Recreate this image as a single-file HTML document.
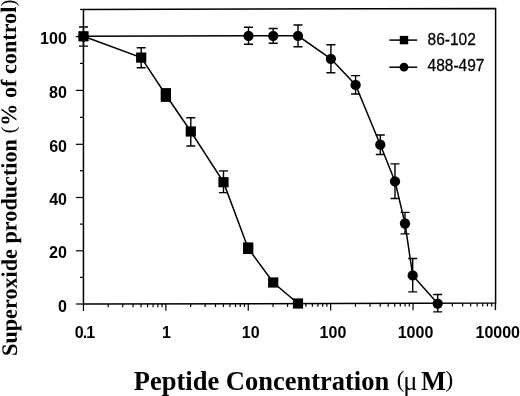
<!DOCTYPE html>
<html><head><meta charset="utf-8"><style>
html,body{margin:0;padding:0;background:#fff;}
svg{display:block;will-change:transform;filter:blur(0.35px);}
</style></head><body>
<svg width="520" height="396" viewBox="0 0 520 396">
<rect width="520" height="396" fill="#fff"/>
<path d="M83.45,304.05 L83.45,9.45 L495.60,8.60 L495.60,303.10 Z" fill="none" stroke="#000" stroke-width="1.5"/>
<line x1="75.85" y1="304.00" x2="83.45" y2="304.00" stroke="#000" stroke-width="1.2"/>
<line x1="79.95" y1="277.40" x2="83.45" y2="277.40" stroke="#000" stroke-width="1.2"/>
<line x1="75.85" y1="250.80" x2="83.45" y2="250.80" stroke="#000" stroke-width="1.2"/>
<line x1="79.95" y1="224.10" x2="83.45" y2="224.10" stroke="#000" stroke-width="1.2"/>
<line x1="75.85" y1="197.50" x2="83.45" y2="197.50" stroke="#000" stroke-width="1.2"/>
<line x1="79.95" y1="170.75" x2="83.45" y2="170.75" stroke="#000" stroke-width="1.2"/>
<line x1="75.85" y1="144.30" x2="83.45" y2="144.30" stroke="#000" stroke-width="1.2"/>
<line x1="79.95" y1="117.35" x2="83.45" y2="117.35" stroke="#000" stroke-width="1.2"/>
<line x1="75.85" y1="90.40" x2="83.45" y2="90.40" stroke="#000" stroke-width="1.2"/>
<line x1="79.95" y1="63.40" x2="83.45" y2="63.40" stroke="#000" stroke-width="1.2"/>
<line x1="75.85" y1="36.60" x2="83.45" y2="36.60" stroke="#000" stroke-width="1.2"/>
<line x1="79.95" y1="9.45" x2="83.45" y2="9.45" stroke="#000" stroke-width="1.2"/>
<line x1="83.45" y1="304.05" x2="83.45" y2="311.05" stroke="#000" stroke-width="1.2"/>
<line x1="108.25" y1="303.99" x2="108.25" y2="307.29" stroke="#000" stroke-width="1.2"/>
<line x1="122.76" y1="303.96" x2="122.76" y2="307.26" stroke="#000" stroke-width="1.2"/>
<line x1="133.06" y1="303.94" x2="133.06" y2="307.24" stroke="#000" stroke-width="1.2"/>
<line x1="141.05" y1="303.92" x2="141.05" y2="307.22" stroke="#000" stroke-width="1.2"/>
<line x1="147.57" y1="303.90" x2="147.57" y2="307.20" stroke="#000" stroke-width="1.2"/>
<line x1="153.09" y1="303.89" x2="153.09" y2="307.19" stroke="#000" stroke-width="1.2"/>
<line x1="157.86" y1="303.88" x2="157.86" y2="307.18" stroke="#000" stroke-width="1.2"/>
<line x1="162.08" y1="303.87" x2="162.08" y2="307.17" stroke="#000" stroke-width="1.2"/>
<line x1="165.85" y1="303.86" x2="165.85" y2="310.86" stroke="#000" stroke-width="1.2"/>
<line x1="190.65" y1="303.80" x2="190.65" y2="307.10" stroke="#000" stroke-width="1.2"/>
<line x1="205.16" y1="303.77" x2="205.16" y2="307.07" stroke="#000" stroke-width="1.2"/>
<line x1="215.46" y1="303.75" x2="215.46" y2="307.05" stroke="#000" stroke-width="1.2"/>
<line x1="223.45" y1="303.73" x2="223.45" y2="307.03" stroke="#000" stroke-width="1.2"/>
<line x1="229.97" y1="303.71" x2="229.97" y2="307.01" stroke="#000" stroke-width="1.2"/>
<line x1="235.49" y1="303.70" x2="235.49" y2="307.00" stroke="#000" stroke-width="1.2"/>
<line x1="240.26" y1="303.69" x2="240.26" y2="306.99" stroke="#000" stroke-width="1.2"/>
<line x1="244.48" y1="303.68" x2="244.48" y2="306.98" stroke="#000" stroke-width="1.2"/>
<line x1="248.25" y1="303.67" x2="248.25" y2="310.67" stroke="#000" stroke-width="1.2"/>
<line x1="273.05" y1="303.61" x2="273.05" y2="306.91" stroke="#000" stroke-width="1.2"/>
<line x1="287.56" y1="303.58" x2="287.56" y2="306.88" stroke="#000" stroke-width="1.2"/>
<line x1="297.86" y1="303.56" x2="297.86" y2="306.86" stroke="#000" stroke-width="1.2"/>
<line x1="305.85" y1="303.54" x2="305.85" y2="306.84" stroke="#000" stroke-width="1.2"/>
<line x1="312.37" y1="303.52" x2="312.37" y2="306.82" stroke="#000" stroke-width="1.2"/>
<line x1="317.89" y1="303.51" x2="317.89" y2="306.81" stroke="#000" stroke-width="1.2"/>
<line x1="322.66" y1="303.50" x2="322.66" y2="306.80" stroke="#000" stroke-width="1.2"/>
<line x1="326.88" y1="303.49" x2="326.88" y2="306.79" stroke="#000" stroke-width="1.2"/>
<line x1="330.65" y1="303.48" x2="330.65" y2="310.48" stroke="#000" stroke-width="1.2"/>
<line x1="355.45" y1="303.42" x2="355.45" y2="306.72" stroke="#000" stroke-width="1.2"/>
<line x1="369.96" y1="303.39" x2="369.96" y2="306.69" stroke="#000" stroke-width="1.2"/>
<line x1="380.26" y1="303.37" x2="380.26" y2="306.67" stroke="#000" stroke-width="1.2"/>
<line x1="388.25" y1="303.35" x2="388.25" y2="306.65" stroke="#000" stroke-width="1.2"/>
<line x1="394.77" y1="303.33" x2="394.77" y2="306.63" stroke="#000" stroke-width="1.2"/>
<line x1="400.29" y1="303.32" x2="400.29" y2="306.62" stroke="#000" stroke-width="1.2"/>
<line x1="405.06" y1="303.31" x2="405.06" y2="306.61" stroke="#000" stroke-width="1.2"/>
<line x1="409.28" y1="303.30" x2="409.28" y2="306.60" stroke="#000" stroke-width="1.2"/>
<line x1="413.05" y1="303.29" x2="413.05" y2="310.29" stroke="#000" stroke-width="1.2"/>
<line x1="437.85" y1="303.23" x2="437.85" y2="306.53" stroke="#000" stroke-width="1.2"/>
<line x1="452.36" y1="303.20" x2="452.36" y2="306.50" stroke="#000" stroke-width="1.2"/>
<line x1="462.66" y1="303.18" x2="462.66" y2="306.48" stroke="#000" stroke-width="1.2"/>
<line x1="470.65" y1="303.16" x2="470.65" y2="306.46" stroke="#000" stroke-width="1.2"/>
<line x1="477.17" y1="303.14" x2="477.17" y2="306.44" stroke="#000" stroke-width="1.2"/>
<line x1="482.69" y1="303.13" x2="482.69" y2="306.43" stroke="#000" stroke-width="1.2"/>
<line x1="487.46" y1="303.12" x2="487.46" y2="306.42" stroke="#000" stroke-width="1.2"/>
<line x1="491.68" y1="303.11" x2="491.68" y2="306.41" stroke="#000" stroke-width="1.2"/>
<line x1="495.45" y1="303.10" x2="495.45" y2="310.10" stroke="#000" stroke-width="1.2"/>
<line x1="495.45" y1="303.10" x2="495.45" y2="310.10" stroke="#000" stroke-width="1.2"/>
<path d="M83.50,36.30 L248.50,35.80 L273.20,35.80 L298.00,35.80 L330.90,58.80 L355.60,84.90 L380.30,144.70 L395.00,181.40 L405.00,223.50 L412.70,275.40 L437.70,303.60" fill="none" stroke="#000" stroke-width="1.5"/>
<path d="M248.50,27.30 L248.50,44.20 M244.00,27.30 L253.00,27.30 M244.00,44.20 L253.00,44.20" fill="none" stroke="#000" stroke-width="1.4"/>
<path d="M273.20,28.50 L273.20,43.20 M268.70,28.50 L277.70,28.50 M268.70,43.20 L277.70,43.20" fill="none" stroke="#000" stroke-width="1.4"/>
<path d="M298.00,25.00 L298.00,46.80 M293.50,25.00 L302.50,25.00 M293.50,46.80 L302.50,46.80" fill="none" stroke="#000" stroke-width="1.4"/>
<path d="M330.90,44.70 L330.90,72.80 M326.40,44.70 L335.40,44.70 M326.40,72.80 L335.40,72.80" fill="none" stroke="#000" stroke-width="1.4"/>
<path d="M355.60,75.60 L355.60,94.00 M351.10,75.60 L360.10,75.60 M351.10,94.00 L360.10,94.00" fill="none" stroke="#000" stroke-width="1.4"/>
<path d="M380.30,135.00 L380.30,154.50 M375.80,135.00 L384.80,135.00 M375.80,154.50 L384.80,154.50" fill="none" stroke="#000" stroke-width="1.4"/>
<path d="M395.00,163.90 L395.00,198.50 M390.50,163.90 L399.50,163.90 M390.50,198.50 L399.50,198.50" fill="none" stroke="#000" stroke-width="1.4"/>
<path d="M405.00,212.40 L405.00,233.90 M400.50,212.40 L409.50,212.40 M400.50,233.90 L409.50,233.90" fill="none" stroke="#000" stroke-width="1.4"/>
<path d="M412.70,258.50 L412.70,291.90 M408.20,258.50 L417.20,258.50 M408.20,291.90 L417.20,291.90" fill="none" stroke="#000" stroke-width="1.4"/>
<path d="M437.70,294.50 L437.70,311.90 M433.20,294.50 L442.20,294.50 M433.20,311.90 L442.20,311.90" fill="none" stroke="#000" stroke-width="1.4"/>
<circle cx="83.50" cy="36.30" r="5.15" fill="#000"/>
<circle cx="248.50" cy="35.80" r="5.15" fill="#000"/>
<circle cx="273.20" cy="35.80" r="5.15" fill="#000"/>
<circle cx="298.00" cy="35.80" r="5.15" fill="#000"/>
<circle cx="330.90" cy="58.80" r="5.15" fill="#000"/>
<circle cx="355.60" cy="84.90" r="5.15" fill="#000"/>
<circle cx="380.30" cy="144.70" r="5.15" fill="#000"/>
<circle cx="395.00" cy="181.40" r="5.15" fill="#000"/>
<circle cx="405.00" cy="223.50" r="5.15" fill="#000"/>
<circle cx="412.70" cy="275.40" r="5.15" fill="#000"/>
<circle cx="437.70" cy="303.60" r="5.15" fill="#000"/>
<path d="M83.50,36.30 L141.20,57.60 L165.90,95.00 L190.80,131.50 L223.50,182.20 L248.10,248.20 L273.20,282.50 L298.00,303.50" fill="none" stroke="#000" stroke-width="1.5"/>
<path d="M83.50,27.00 L83.50,46.10 M79.00,27.00 L88.00,27.00 M79.00,46.10 L88.00,46.10" fill="none" stroke="#000" stroke-width="1.4"/>
<path d="M141.20,47.80 L141.20,67.80 M136.70,47.80 L145.70,47.80 M136.70,67.80 L145.70,67.80" fill="none" stroke="#000" stroke-width="1.4"/>
<rect x="160.80" y="88.10" width="10.2" height="13.8" fill="#000"/>
<path d="M190.80,117.70 L190.80,146.00 M186.30,117.70 L195.30,117.70 M186.30,146.00 L195.30,146.00" fill="none" stroke="#000" stroke-width="1.4"/>
<path d="M223.50,170.90 L223.50,192.60 M219.00,170.90 L228.00,170.90 M219.00,192.60 L228.00,192.60" fill="none" stroke="#000" stroke-width="1.4"/>
<rect x="243.00" y="242.40" width="10.2" height="11.6" fill="#000"/>
<rect x="78.40" y="31.20" width="10.2" height="10.2" fill="#000"/>
<rect x="136.10" y="52.50" width="10.2" height="10.2" fill="#000"/>
<rect x="160.80" y="89.90" width="10.2" height="10.2" fill="#000"/>
<rect x="185.70" y="126.40" width="10.2" height="10.2" fill="#000"/>
<rect x="218.40" y="177.10" width="10.2" height="10.2" fill="#000"/>
<rect x="243.00" y="243.10" width="10.2" height="10.2" fill="#000"/>
<rect x="268.10" y="277.40" width="10.2" height="10.2" fill="#000"/>
<rect x="292.90" y="298.40" width="10.2" height="10.2" fill="#000"/>
<line x1="389.4" y1="40.1" x2="417.2" y2="40.1" stroke="#000" stroke-width="1.5"/>
<rect x="399.8" y="35.9" width="8.4" height="8.4" fill="#000"/>
<text transform="translate(427.6,44.9) scale(1,1.09)" font-family="'Liberation Sans', sans-serif" font-size="15.5" stroke="#000" stroke-width="0.25">86-102</text>
<line x1="389.4" y1="67.2" x2="417.2" y2="67.2" stroke="#000" stroke-width="1.5"/>
<circle cx="404" cy="67.2" r="4.4" fill="#000"/>
<text transform="translate(427.6,70.9) scale(1,1.09)" font-family="'Liberation Sans', sans-serif" font-size="15.5" stroke="#000" stroke-width="0.25">488-497</text>
<text x="67.0" y="311.50" text-anchor="end" font-family="'Liberation Sans', sans-serif" font-weight="bold" font-size="16">0</text>
<text x="66.8" y="258.10" text-anchor="end" font-family="'Liberation Sans', sans-serif" font-weight="bold" font-size="16">20</text>
<text x="67.0" y="205.10" text-anchor="end" font-family="'Liberation Sans', sans-serif" font-weight="bold" font-size="16">40</text>
<text x="67.0" y="152.30" text-anchor="end" font-family="'Liberation Sans', sans-serif" font-weight="bold" font-size="16">60</text>
<text x="66.8" y="97.80" text-anchor="end" font-family="'Liberation Sans', sans-serif" font-weight="bold" font-size="16">80</text>
<text x="66.8" y="43.90" text-anchor="end" font-family="'Liberation Sans', sans-serif" font-weight="bold" font-size="16">100</text>
<text x="84.50" y="337.6" text-anchor="middle" font-family="'Liberation Sans', sans-serif" font-weight="bold" font-size="16" letter-spacing="-0.9">0.1</text>
<text x="166.50" y="337.6" text-anchor="middle" font-family="'Liberation Sans', sans-serif" font-weight="bold" font-size="16">1</text>
<text x="250.75" y="337.6" text-anchor="middle" font-family="'Liberation Sans', sans-serif" font-weight="bold" font-size="16">10</text>
<text x="332.95" y="337.6" text-anchor="middle" font-family="'Liberation Sans', sans-serif" font-weight="bold" font-size="16">100</text>
<text x="415.50" y="337.6" text-anchor="middle" font-family="'Liberation Sans', sans-serif" font-weight="bold" font-size="16">1000</text>
<text x="497.75" y="337.6" text-anchor="middle" font-family="'Liberation Sans', sans-serif" font-weight="bold" font-size="16">10000</text>
<text x="133.8" y="389.5" font-family="'Liberation Serif', serif" font-weight="bold" font-size="26.5">Peptide Concentration <tspan font-weight="normal" font-size="23" dx="1.0" dy="-2.3">(</tspan><tspan font-weight="normal" dx="-1.3" dy="2.3">μ</tspan><tspan dx="3.6">M</tspan><tspan font-weight="normal" font-size="23" dx="-0.6" dy="-2.3">)</tspan></text>
<text transform="translate(16.9,355.9) rotate(-90.145)" x="0" y="0" font-family="'Liberation Serif', serif" font-weight="bold" font-size="22.2">Superoxide production <tspan font-weight="normal" font-size="20" dx="0.3" dy="-1.3">(</tspan><tspan dx="0.8" dy="1.3">% of control</tspan><tspan font-weight="normal" font-size="20" dx="0.3" dy="-1.3">)</tspan></text>
</svg>
</body></html>
